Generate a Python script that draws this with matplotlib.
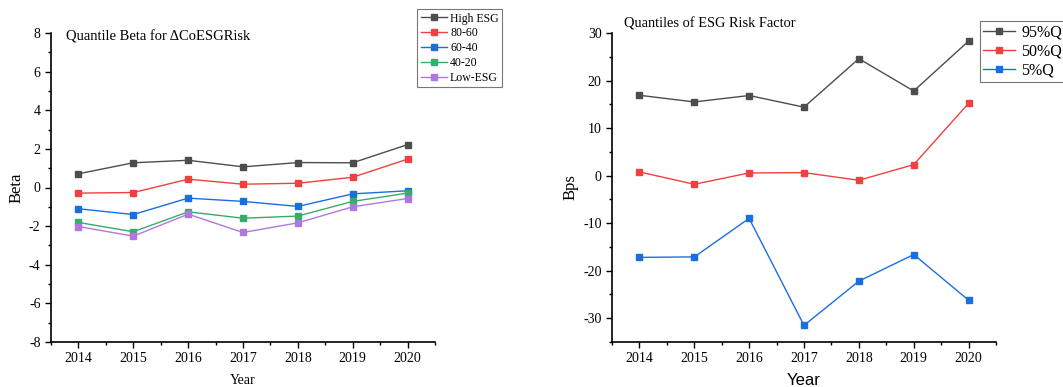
import matplotlib
matplotlib.use("Agg")
import matplotlib.pyplot as plt
from matplotlib.ticker import MultipleLocator

years = [2014, 2015, 2016, 2017, 2018, 2019, 2020]

high_esg = [0.71, 1.28, 1.41, 1.07, 1.29, 1.28, 2.22]
q80_60 = [-0.29, -0.26, 0.43, 0.17, 0.22, 0.53, 1.47]
q60_40 = [-1.10, -1.40, -0.55, -0.72, -0.98, -0.33, -0.17]
q40_20 = [-1.81, -2.29, -1.26, -1.59, -1.48, -0.72, -0.29]
low_esg = [-2.02, -2.52, -1.38, -2.33, -1.83, -1.00, -0.57]

q95 = [16.9, 15.5, 16.85, 14.4, 24.6, 17.8, 28.3]
q50 = [0.77, -1.82, 0.56, 0.63, -0.98, 2.31, 15.2]
q05 = [-17.2, -17.1, -9.0, -31.5, -22.2, -16.6, -26.2]

left_labels = ["High ESG", "80-60", "60-40", "40-20", "Low-ESG"]
right_labels = ["95%Q", "50%Q", "5%Q"]

c_black = "#4d4d4d"
c_red = "#f14040"
c_blue = "#1a6fdf"
c_green = "#37ad6b"
c_purple = "#b177de"

serif = ["Liberation Serif", "DejaVu Serif"]
plt.rcParams["font.family"] = serif
plt.rcParams["axes.unicode_minus"] = False

fig = plt.figure(figsize=(10.63, 3.87), dpi=100)
W, H = 1063, 387

def make_ax(x0, x1, y0, y1):
    return fig.add_axes([x0 / W, 1 - y1 / H, (x1 - x0) / W, (y1 - y0) / H])

ax1 = make_ax(51, 435, 33, 342)
ax2 = make_ax(612, 996, 33, 342)

for ax in (ax1, ax2):
    ax.spines["top"].set_visible(False)
    ax.spines["right"].set_visible(False)
    ax.spines["left"].set_linewidth(1.2)
    ax.spines["bottom"].set_linewidth(1.2)
    ax.set_xlim(2013.5, 2020.5)
    ax.set_xticks(years)
    ax.xaxis.set_minor_locator(MultipleLocator(0.5))
    ax.tick_params(which="major", direction="out", length=4, width=1, labelsize=10)
    ax.tick_params(which="minor", direction="out", length=2.5, width=1)

mk = dict(marker="s", markersize=4.5, linewidth=1.0)
series_l = [high_esg, q80_60, q60_40, q40_20, low_esg]
cols_l = [c_black, c_red, c_blue, c_green, c_purple]
for vals, col, lab in zip(series_l, cols_l, left_labels):
    ax1.plot(years, vals, color=col, label=lab, **mk)
ax1.set_ylim(-8, 8)
ax1.yaxis.set_major_locator(MultipleLocator(2))
ax1.yaxis.set_minor_locator(MultipleLocator(1))
ax1.set_ylabel("Beta", fontsize=12)
ax1.yaxis.set_label_coords(-0.07, 0.5)
ax1.set_xlabel("Year", fontsize=10)
ax1.xaxis.set_label_coords(0.5, -0.105)
ax1.text(0.04, 1.008, "Quantile Beta for ΔCoESGRisk", transform=ax1.transAxes,
         fontsize=10.5, va="top", ha="left")
leg1 = ax1.legend(loc="upper left", bbox_to_anchor=((417 - 51) / 384, 1 + (33 - 9) / 309),
                  fontsize=8.5, frameon=True, fancybox=False, handlelength=2.2,
                  borderpad=0.3, labelspacing=0.24, handletextpad=0.3, borderaxespad=0)
leg1.get_frame().set_edgecolor("#555555")
leg1.get_frame().set_linewidth(0.8)

series_r = [q95, q50, q05]
cols_r = [c_black, c_red, c_blue]
for vals, col, lab in zip(series_r, cols_r, right_labels):
    ax2.plot(years, vals, color=col, label=lab, **mk)
ax2.set_ylim(-35, 30)
ax2.yaxis.set_major_locator(MultipleLocator(10))
ax2.yaxis.set_minor_locator(MultipleLocator(5))
ax2.set_ylabel("Bps", fontsize=12)
ax2.yaxis.set_label_coords(-0.086, 0.5)
ax2.set_xlabel("Year", fontsize=12, family=["Liberation Sans", "DejaVu Sans"])
ax2.xaxis.set_label_coords(0.5, -0.1)
ax2.text(12 / 384, 1 + 9 / 309, "Quantiles of ESG Risk Factor", transform=ax2.transAxes,
         fontsize=10.4, va="center", ha="left")
leg2 = ax2.legend(loc="upper left", bbox_to_anchor=((980 - 612) / 384, 1 + (33 - 21) / 309),
                  fontsize=11.5, frameon=True, fancybox=False, handlelength=2.0,
                  borderpad=0.2, labelspacing=0.2, handletextpad=0.4, borderaxespad=0)
leg2.get_frame().set_edgecolor("#555555")
leg2.get_frame().set_linewidth(0.8)

fig.savefig("out.png", dpi=100)
